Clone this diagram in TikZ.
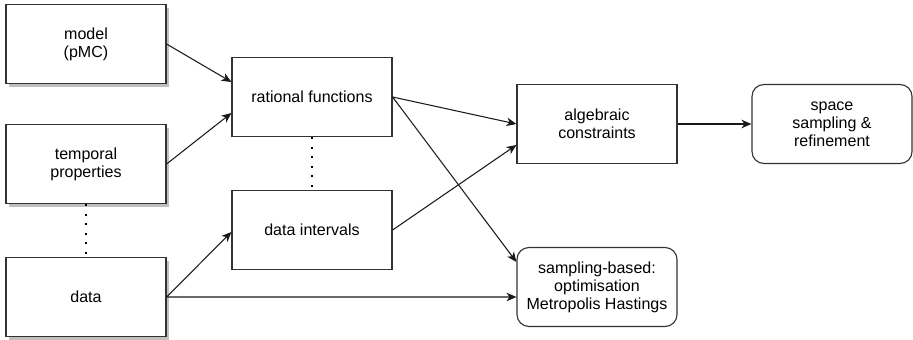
\documentclass[tikz,border=0pt]{standalone}
\usepackage{fontspec}
\setmainfont{Liberation Sans}
\usetikzlibrary{arrows.meta}
\usetikzlibrary{shadows}

\tikzset{
  box/.style={draw=black!80, line width=0.8pt, minimum width=4cm, minimum height=1.975cm,
    align=center, font=\fontsize{11.4}{12.8}\selectfont, fill=white},
  shbox/.style={box, drop shadow={shadow xshift=0.08cm, shadow yshift=-0.08cm, fill=black!25, opacity=1}},
  rbox/.style={box, rounded corners=0.3cm},
  arr/.style={draw=black!90, line width=0.75pt, -{Stealth[length=7pt,width=6pt,inset=2pt]}},
  dots/.style={line width=1.5pt, dash pattern=on 1.5pt off 5.3pt}
}

\begin{document}
\begin{tikzpicture}[x=0.025cm,y=-0.025cm]
\useasboundingbox (0,0) rectangle (913,340);

\node[shbox] (model) at (86,44) {model\\(pMC)}; %inputs
\node[shbox] (temporal) at (86,164) {temporal\\properties};
\node[shbox] (data) at (86,297) {data};

\node[box] (ratfun) at (312,97) {rational functions}; %intermediate
\node[box] (intervals) at (312,230) {data intervals};

\node[box] (constraints) at (597,124) {algebraic\\constraints}; %methods
\node[rbox] (sampling) at (597,287) {sampling-based:\\optimisation\\Metropolis Hastings};
\node[rbox] (refine) at (832,124) {space\\sampling \&\\refinement};

\draw[dots] (temporal.south) -- (data.north);
\draw[dots] (ratfun.south) -- (intervals.north);

\draw[arr] (model.east) -- ([yshift=0.375cm]ratfun.west);
\draw[arr] (temporal.east) -- ([yshift=-0.4cm]ratfun.west);
\draw[arr] (data.east) -- ([yshift=-0.05cm]intervals.west);
\draw[arr] (data.east) -- ([yshift=-0.25cm]sampling.west);
\draw[arr] (ratfun.east) -- (constraints.west);
\draw[arr] (ratfun.east) -- ([yshift=0.625cm]sampling.west);
\draw[arr] (intervals.east) -- ([yshift=-0.525cm]constraints.west);
\draw[arr, line width=1.1pt] (constraints.east) -- (refine.west);
\end{tikzpicture}
\end{document}
